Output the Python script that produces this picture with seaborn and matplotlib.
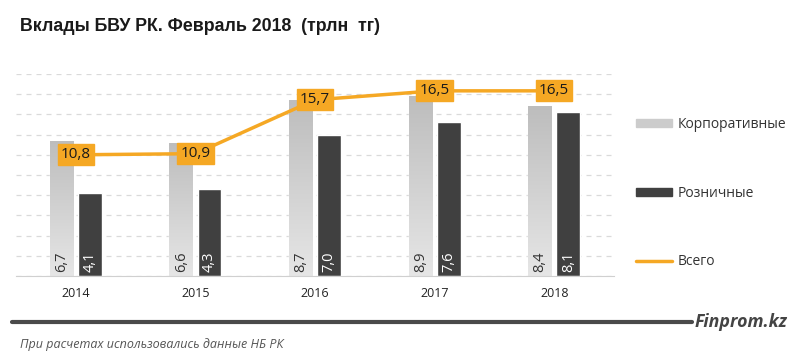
import matplotlib
matplotlib.use('Agg')
import matplotlib.pyplot as plt
import seaborn as sns
import pandas as pd
import numpy as np
from matplotlib.patches import Patch
from matplotlib.lines import Line2D
from matplotlib.colors import LinearSegmentedColormap

years = ['2014', '2015', '2016', '2017', '2018']
corporate = [6.7, 6.6, 8.7, 8.9, 8.4]
retail = [4.1, 4.3, 7.0, 7.6, 8.1]
total = [10.8, 10.9, 15.7, 16.5, 16.5]

labels = ['Корпоративные', 'Розничные', 'Всего']
c_corp = '#c8c8c8'
c_retail = '#404040'
c_total = '#f5a824'

sns.set_style('white')
plt.rcParams['font.family'] = ['Open Sans', 'DejaVu Sans']

df = pd.DataFrame({
    'year': years * 2,
    'value': corporate + retail,
    'type': [labels[0]] * len(years) + [labels[1]] * len(years),
})

fig = plt.figure(figsize=(8, 3.61), dpi=100)
ax = fig.add_axes([0.02, 0.2355, 0.7475, 0.5595])

sns.barplot(data=df, x='year', y='value', hue='type', ax=ax,
            palette={labels[0]: c_corp, labels[1]: c_retail},
            width=0.47, gap=0.15, legend=False, saturation=1)

# vertical gradient on the corporate bars (lighter at the bottom)
grad = LinearSegmentedColormap.from_list('g', ['#e6e6e6', '#bdbdbd'])
for bar in ax.containers[0]:
    x0, w, h = bar.get_x(), bar.get_width(), bar.get_height()
    im = ax.imshow(np.linspace(0, 1, 256).reshape(-1, 1), extent=[x0, x0 + w, 0, h],
                   origin='lower', cmap=grad, aspect='auto', zorder=bar.get_zorder())
    im.set_clip_path(bar)

ax.set_ylim(0, 10)
ax.set_yticks(range(0, 11))
ax.set_yticklabels([])
ax.tick_params(axis='y', length=0)
ax.yaxis.grid(True, color='#dadada', linestyle=(0, (4, 4)), linewidth=0.9)
ax.set_axisbelow(True)
ax.set_xlabel('')
ax.set_ylabel('')
ax.set_xlim(-0.5, len(years) - 0.5)
for s in ['top', 'right', 'left']:
    ax.spines[s].set_visible(False)
ax.spines['bottom'].set_color('#d0d0d0')
ax.tick_params(axis='x', length=0, labelsize=9, pad=8, colors='#222222')
ax.set_xticks([i + 0.5 for i in range(len(years) - 1)], minor=True)
ax.tick_params(axis='x', which='minor', length=4, color='#d0d0d0')

# values inside bars
for cont, col in zip(ax.containers, ['#333333', 'white']):
    for bar, v in zip(cont, cont.datavalues):
        ax.text(bar.get_x() + bar.get_width() / 2, 0.2, f'{v:.1f}'.replace('.', ','),
                rotation=90, ha='center', va='bottom', fontsize=10.5, color=col, zorder=5)

ax2 = ax.twinx()
xpos = list(range(len(years)))
sns.lineplot(x=xpos, y=total, ax=ax2, color=c_total, linewidth=2.5)
ax2.set_ylim(0, 18)
ax2.set_yticks([])
for s in ax2.spines.values():
    s.set_visible(False)
for x, v in zip(xpos, total):
    ax2.text(x, v, f'{v:.1f}'.replace('.', ','), ha='center', va='center',
             fontsize=11, color='#1a1a1a',
             bbox=dict(boxstyle='square,pad=0.2', fc=c_total, ec=c_total))

handles = [Patch(color='#cccccc'), Patch(color=c_retail),
           Line2D([0], [0], color=c_total, linewidth=2.5)]
fig.legend(handles, labels, loc='upper left', bbox_to_anchor=(0.779, 0.71),
           frameon=False, fontsize=10, labelspacing=3.85, handlelength=2.6,
           handleheight=0.5, handletextpad=0.4, labelcolor='#333333')

fig.text(0.025, 0.915, 'Вклады БВУ РК. Февраль 2018  (трлн  тг)',
         fontsize=12.8, fontweight='bold', color='#1a1a1a',
         family=['Liberation Sans', 'DejaVu Sans'])

fig.add_artist(Line2D([0.015, 0.865], [0.108, 0.108], color='#4a4a4a', linewidth=3))
fig.text(0.868, 0.108, 'Finprom.kz', fontsize=12.8, fontweight='bold', style='italic',
         color='#444444', va='center')
fig.text(0.025, 0.045, 'При расчетах использовались данные НБ РК', fontsize=9,
         style='italic', color='#555555', va='center')

fig.savefig('out.png', dpi=100)
